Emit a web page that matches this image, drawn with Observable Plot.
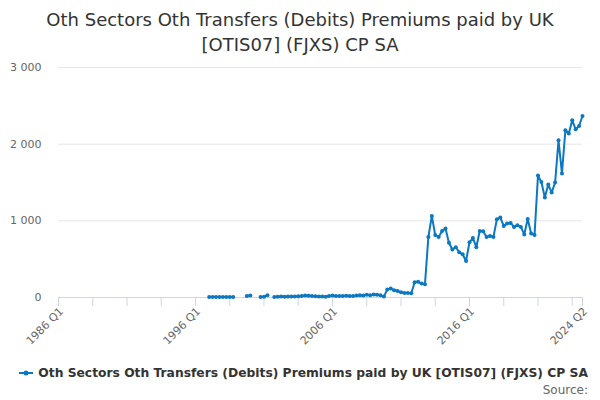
<!DOCTYPE html>
<html>
<head>
<meta charset="utf-8">
<script src="https://cdn.jsdelivr.net/npm/d3@7"></script>
<script src="https://cdn.jsdelivr.net/npm/@observablehq/plot@0.6"></script>
<style>
  body { margin: 0; background: #fff; font-family: "DejaVu Sans", sans-serif; }
  #title { height: 60px; box-sizing: border-box; padding-top: 7px; text-align: center; font-size: 18px; line-height: 25px; color: #333; }
  #legend { margin-top: 4px; padding-left: 6px; text-align: center; font-size: 12.3px; font-weight: bold; color: #333; line-height: 18px; }
  #legend svg { vertical-align: -1px; }
  #source { text-align: right; padding-right: 12px; font-size: 12px; color: #666; line-height: 16px; }
</style>
</head>
<body>
<div id="title">Oth Sectors Oth Transfers (Debits) Premiums paid by UK<br>[OTIS07] (FJXS) CP SA</div>
<div id="chart"></div>
<div id="legend"><svg width="16" height="10"><line x1="1" y1="5" x2="15" y2="5" stroke="#0b78c1" stroke-width="2"/><circle cx="8" cy="5" r="2.5" fill="#0b78c1"/></svg> Oth Sectors Oth Transfers (Debits) Premiums paid by UK [OTIS07] (FJXS) CP SA</div>
<div id="source">Source:</div>
<script>
// quarters run 1986 Q1 .. 2024 Q2; values start at 1997 Q1 (null = no data)
const firstYear = 1986;
const lastIndex = 153;
const valuesStart = 44;
const values = [
  8, 8, 8, 8, 8, 8, 8, 8,            // 1997-1998
  null, null, null, 20, 25, null, null, 8, 10, 30, null,
  8, 10, 12, 10, 12, 14, 12, 15, 18, 25, 22, 20, 15, 12, 14, 10,
  20, 25, 20, 18, 20, 22, 18, 20, 25, 28, 25, 35, 30, 38, 35, 30, 12,
  104, 117, 95, 86, 69, 60, 60, 55, 199, 204, 182, 173,
  790, 1064, 815, 790, 866, 900, 715, 626, 655, 590, 563, 477,
  720, 775, 656, 868, 864, 790, 803, 790, 1020, 1043, 934, 965,
  973, 921, 943, 921, 823, 1025, 835, 815, 1590, 1507, 1304, 1473,
  1369, 1499, 2051, 1617, 2181, 2138, 2312, 2194, 2237, 2368
];
const yTicks = [0, 1000, 2000, 3000];
const xTicks = [0, 10, 20, 30, 40, 50, 60, 70, 80, 90, 100, 110, 120, 130, 140, 150, 153];
const xLabelTicks = [0, 40, 80, 120, 153];

const quarterLabel = i => (firstYear + Math.floor(i / 4)) + " Q" + (i % 4 + 1);
const data = values.map((v, k) => ({ i: valuesStart + k, v: v }));
const color = "#0b78c1";

const plot = Plot.plot({
  width: 600,
  height: 300,
  marginLeft: 58,
  marginRight: 18,
  marginTop: 7,
  marginBottom: 63,
  style: { fontFamily: "DejaVu Sans, sans-serif", fontSize: "11px", color: "#666", background: "#fff" },
  x: { type: "linear", domain: [0, lastIndex] },
  y: { domain: [0, 3000] },
  marks: [
    Plot.gridY(yTicks.slice(1), { stroke: "#e6e6e6", strokeOpacity: 1 }),
    Plot.axisY(yTicks, {
      tickSize: 0, tickPadding: 17,
      tickFormat: d => d3.format(",")(d).replace(/,/g, " "),
      label: null, fill: "#666"
    }),
    Plot.axisX(xTicks, {
      tickSize: 9, stroke: "#ccd6eb", strokeOpacity: 1, tickFormat: () => "", label: null
    }),
    Plot.axisX(xLabelTicks, {
      tickSize: 0,
      tickFormat: d => quarterLabel(d),
      tickRotate: -45, tickPadding: 12, dx: 3, label: null, fill: "#666"
    }),
    Plot.ruleY([0], { stroke: "#ccd6eb" }),
    Plot.line(data, { x: "i", y: "v", stroke: color, strokeWidth: 2 }),
    Plot.dot(data.filter(d => d.v != null), { x: "i", y: "v", r: 2, fill: color })
  ]
});
document.querySelector("#chart").append(plot);
</script>
</body>
</html>
